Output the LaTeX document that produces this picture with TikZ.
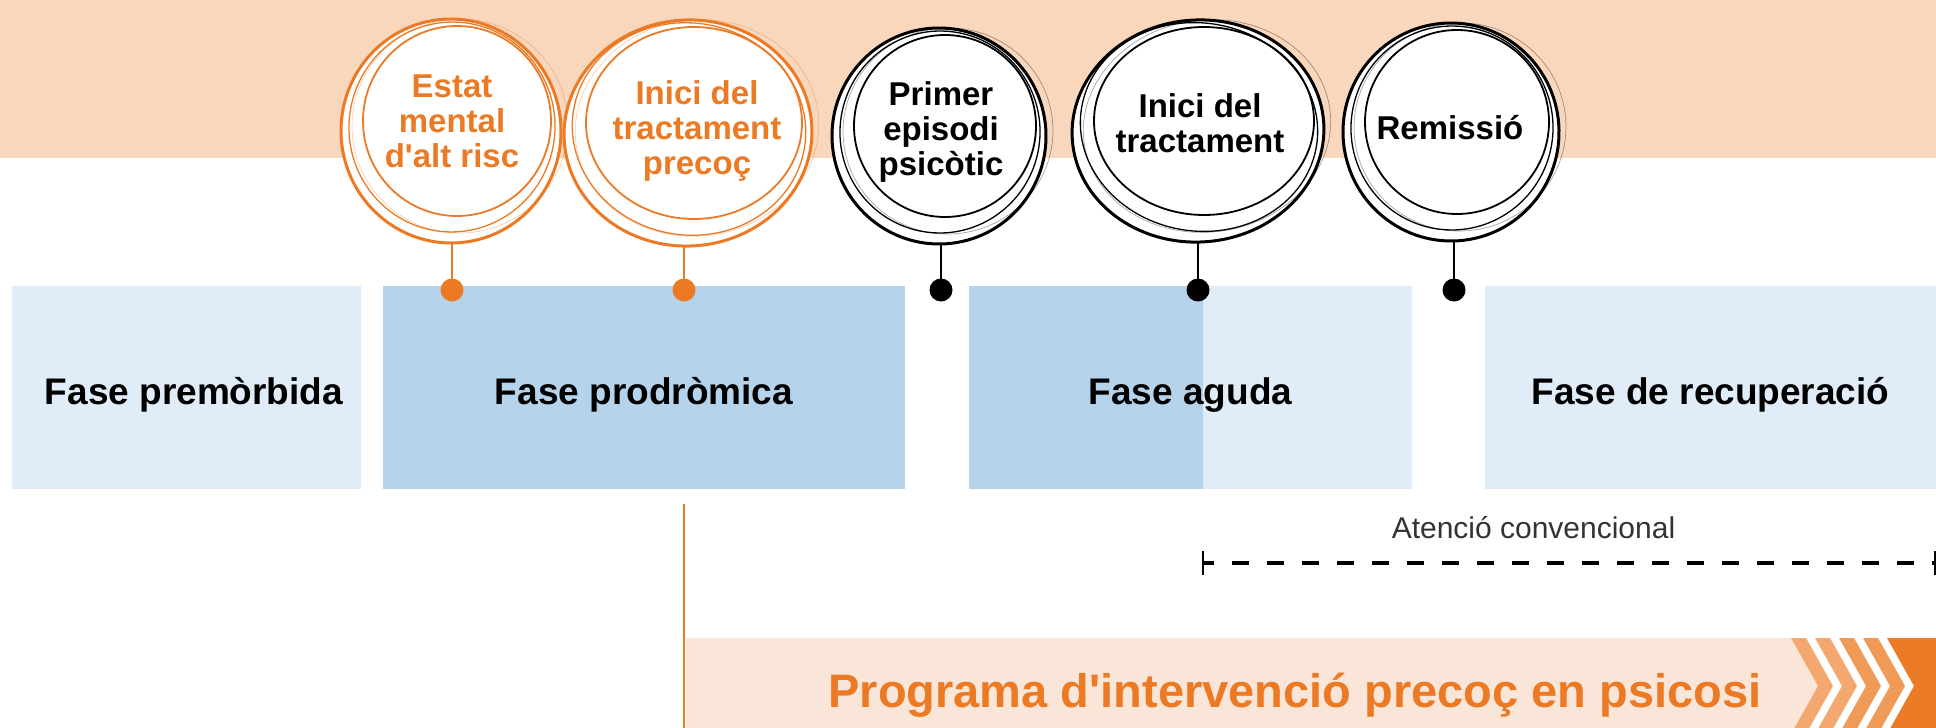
\documentclass[tikz,border=0pt]{standalone}
\usepackage{fontspec}
\setmainfont{Liberation Sans}[Ligatures=TeXOff]
\usetikzlibrary{shapes.geometric}
\definecolor{peach}{HTML}{F8D7BC}
\definecolor{orng}{HTML}{EC7A24}
\definecolor{dblue}{HTML}{B5D3EB}
\definecolor{lblue}{HTML}{E0EDF8}
\definecolor{bandl}{HTML}{FAE6D8}
\definecolor{chevA}{HTML}{F4A86F}
\definecolor{chevB}{HTML}{F09A58}
\definecolor{dorng}{HTML}{EB7B24}
\definecolor{gtext}{HTML}{333333}

\newcommand\skc[6]{% color, name, cx, cy, rx, ry
  \pgfmathsetmacro\skrxa{#5-7}\pgfmathsetmacro\skrya{#6-7}%
  \pgfmathsetmacro\skrxb{#5-16}\pgfmathsetmacro\skryb{#6-17}%
  \pgfmathsetmacro\skrxc{#5-2}\pgfmathsetmacro\skryc{#6-5}%
  \node[ellipse, draw=#1, fill=white, line width=3pt, minimum width=2*#5 pt,
        minimum height=2*#6 pt, inner sep=0pt, rotate=4] (#2) at (#3,#4) {};
  \draw[#1, line width=1.3pt, rotate around={-9:({#3+1},{#4-4})}]
    ({#3+1},{#4-4}) ellipse [x radius=\skrxa pt, y radius=\skrya pt];
  \draw[#1, line width=1.8pt] ({#3+6},{#4-10}) ellipse [x radius=\skrxb pt, y radius=\skryb pt];
  \draw[#1, line width=0.7pt, opacity=0.35, rotate around={8:({#3+9},{#4-5})}]
    ({#3+9},{#4-5}) ellipse [x radius=\skrxc pt, y radius=\skryc pt];
}

\begin{document}
\begin{tikzpicture}[x=1pt,y=-1pt,
  phase/.style={rectangle, inner sep=0pt, minimum height=203pt,
    text height=40pt, text depth=7pt,
    font=\bfseries\fontsize{37}{40}\selectfont, text=black},
  ctext/.style={font=\bfseries\fontsize{33}{35}\selectfont, align=center,
    anchor=base, inner sep=0pt},
  dotst/.style={circle, fill=#1, minimum size=23pt, inner sep=0pt},
  conn/.style={line width=2pt}]
\useasboundingbox (0,0) rectangle (1936,728);
\clip (0,0) rectangle (1936,728);
\fill[peach] (0,0) rectangle (1936,158);

% phase boxes
\node[phase, fill=lblue, minimum width=349pt] (p1) at (186.5,387.5) {\hspace*{15pt}Fase premòrbida};
\node[phase, fill=dblue, minimum width=522pt] (p2) at (644,387.5) {Fase prodròmica};
\node[phase, fill=lblue, minimum width=443pt,
  path picture={\fill[dblue] (path picture bounding box.north west) rectangle ([xshift=234pt]path picture bounding box.south west);}]
  (p3) at (1190.5,387.5) {Fase aguda};
\node[phase, fill=lblue, minimum width=451pt] (p4) at (1710.5,387.5) {Fase de recuperació};

% sketchy circles
\skc{orng}{r1}{451}{131}{110}{112}
\skc{orng}{r2}{688}{133}{124}{113}
\skc{black}{r3}{939}{136}{107}{108}
\skc{black}{r4}{1198}{131}{126}{111}
\skc{black}{r5}{1451}{132}{108}{109}

\node[ctext, text=orng] (t1) at (452,167) {Estat\\mental\\d'alt risc};
\node[ctext, text=orng] (t2) at (697,174) {Inici del\\tractament\\precoç};
\node[ctext, text=black] (t3) at (941,175) {Primer\\episodi\\psicòtic};
\node[ctext, text=black] (t4) at (1200,152) {Inici del\\tractament};
\node[ctext, text=black] (t5) at (1450,139) {Remissió};

% dots and connectors
\node[dotst=orng] (d1) at (452,290) {};
\node[dotst=orng] (d2) at (684,290) {};
\node[dotst=black] (d3) at (941,290) {};
\node[dotst=black] (d4) at (1198,290) {};
\node[dotst=black] (d5) at (1454,290) {};
\draw[orng, conn] (r1.south -| d1) -- (d1.center);
\draw[orng, conn] (r2.south -| d2) -- (d2.center);
\draw[black, conn] (r3.south -| d3) -- (d3.center);
\draw[black, conn] (r4.south -| d4) -- (d4.center);
\draw[black, conn] (r5.south -| d5) -- (d5.center);

% conventional care
\node[font=\fontsize{30}{32}\selectfont, text=gtext, anchor=base, inner sep=0pt]
  (aten) at (1533.5,538) {Atenció convencional};
\coordinate (dl) at (1203,563);
\coordinate (dr) at (1936,563);
\draw[line width=3.5pt, dash pattern=on 17pt off 18pt, dash phase=6pt] (dl) -- (dr);
\draw[line width=2.5pt] ([yshift=-12pt]dl) -- ([yshift=12pt]dl);
\draw[line width=2.5pt] ([yshift=-12pt,xshift=-1pt]dr) -- ([yshift=12pt,xshift=-1pt]dr);

% early intervention programme
\coordinate (vtop) at (684,504);
\coordinate (vbot) at (684,728);
\draw[orng, line width=2.5pt] (vtop) -- (vbot);
\fill[bandl] (686,638) -- (1791,638) -- (1818,686) -- (1791,734) -- (686,734) -- cycle;
\foreach \k/\c in {0/chevA,1/chevA,2/chevB,3/chevB}{
  \pgfmathsetmacro\L{1791+24*\k}
  \fill[\c] (\L,638) -- ({\L+15},638) -- ({\L+42},686) -- ({\L+15},734) -- (\L,734) -- ({\L+27},686) -- cycle;
}
\fill[dorng] (1887,638) -- (1936,638) -- (1936,734) -- (1887,734) -- (1914,686) -- cycle;
\node[font=\bfseries\fontsize{47}{50}\selectfont, text=orng, anchor=base, inner sep=0pt]
  (prog) at (1295,707) {Programa d'intervenció precoç en psicosi};
\end{tikzpicture}
\end{document}
